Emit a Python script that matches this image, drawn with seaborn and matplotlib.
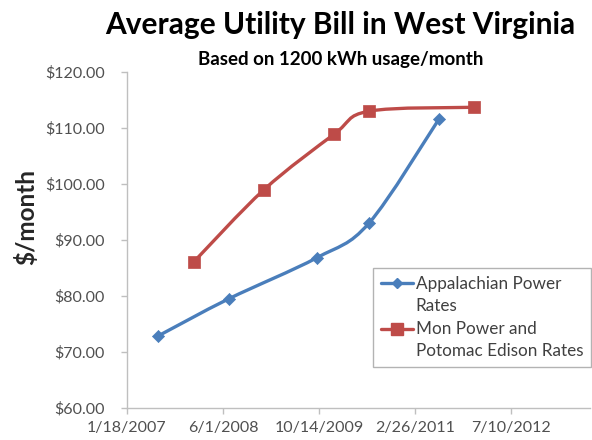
import matplotlib
matplotlib.use("Agg")
import matplotlib.pyplot as plt
import matplotlib.dates as mdates
from matplotlib.path import Path
from matplotlib.patches import PathPatch
from matplotlib.lines import Line2D
from matplotlib.legend_handler import HandlerLine2D
from matplotlib.ticker import FuncFormatter
import numpy as np
import pandas as pd
import seaborn as sns

# data
appalachian_dates = ["2007-07-01", "2008-07-01", "2009-10-01", "2010-07-01", "2011-07-01"]
appalachian_bill = [72.9, 79.5, 86.8, 93.0, 111.6]
mon_power_dates = ["2008-01-01", "2009-01-01", "2010-01-01", "2010-07-01", "2012-01-01"]
mon_power_bill = [86.1, 99.0, 108.9, 113.0, 113.7]
x_tick_dates = ["2007-01-18", "2008-06-01", "2009-10-14", "2011-02-26", "2012-07-10"]
x_tick_labels = ["1/18/2007", "6/1/2008", "10/14/2009", "2/26/2011", "7/10/2012"]
y_ticks = [60, 70, 80, 90, 100, 110, 120]
series_names = ["Appalachian Power\nRates", "Mon Power and\nPotomac Edison Rates"]

BLUE = "#4A7EBB"
RED = "#BE4B48"

sns.set_style("white")
plt.rcParams["font.family"] = ["Lato", "DejaVu Sans"]

df = pd.concat([
    pd.DataFrame({"date": pd.to_datetime(appalachian_dates), "bill": appalachian_bill,
                  "series": series_names[0]}),
    pd.DataFrame({"date": pd.to_datetime(mon_power_dates), "bill": mon_power_bill,
                  "series": series_names[1]}),
])

fig = plt.figure(figsize=(5.92, 4.40), dpi=100)
ax = fig.add_axes([127 / 592, 1 - 408 / 440, (590 - 127) / 592, (408 - 72) / 440])


def smooth_path(xs, ys):
    # Excel-style smoothed line: Catmull-Rom segments as cubic Beziers
    pts = np.column_stack([xs, ys])
    verts = [pts[0]]
    codes = [Path.MOVETO]
    n = len(pts)
    for i in range(n - 1):
        p0 = pts[max(i - 1, 0)]
        p1 = pts[i]
        p2 = pts[i + 1]
        p3 = pts[min(i + 2, n - 1)]
        verts += [p1 + (p2 - p0) / 6.0, p2 - (p3 - p1) / 6.0, p2]
        codes += [Path.CURVE4] * 3
    return Path(verts, codes)


for name, color, marker, size in [(series_names[0], BLUE, "D", 38),
                                   (series_names[1], RED, "s", 80)]:
    sub = df[df["series"] == name]
    xs = mdates.date2num(sub["date"])
    ax.add_patch(PathPatch(smooth_path(xs, sub["bill"].to_numpy()), facecolor="none",
                           edgecolor=color, lw=2.4, zorder=2))
    sns.scatterplot(data=sub, x="date", y="bill", color=color, marker=marker, s=size,
                    edgecolor=color, linewidth=0.5, ax=ax, zorder=3, legend=False)

x0 = mdates.date2num(pd.Timestamp(x_tick_dates[0]))
ax.set_xlim(x0, x0 + (590 - 127) * 500 / 96)
ax.set_ylim(60, 120)
ax.set_xticks(mdates.date2num(pd.to_datetime(x_tick_dates)))
ax.set_xticklabels(x_tick_labels)
ax.set_yticks(y_ticks)
ax.yaxis.set_major_formatter(FuncFormatter(lambda v, p: f"${v:.2f}"))
ax.set_xlabel("")
ax.set_ylabel("$/month", fontsize=17.5, fontweight="bold")
ax.yaxis.set_label_coords((38 - 127) / (590 - 127), (408 - 217) / (408 - 72))

for s in ["top", "right"]:
    ax.spines[s].set_visible(False)
for s in ["left", "bottom"]:
    ax.spines[s].set_color("#BFBFBF")
    ax.spines[s].set_linewidth(1.0)
ax.tick_params(axis="both", which="both", direction="out", length=4, width=1,
               color="#BFBFBF", labelcolor="#505050", labelsize=11.5, left=True, bottom=True)
ax.tick_params(axis="y", pad=12)
ax.tick_params(axis="x", pad=5)

fig.text(0.575, 1 - 25 / 440, "Average Utility Bill in West Virginia", ha="center", va="center",
         fontsize=21.5, fontweight="bold", color="black")
fig.text(0.575, 1 - 60 / 440, "Based on 1200 kWh usage/month", ha="center", va="center",
         fontsize=13.5, fontweight="bold", color="black")


class TopAlignedHandler(HandlerLine2D):
    # put the legend key next to the first line of a two-line label, like Excel
    def create_artists(self, legend, orig_handle, xdescent, ydescent, width, height,
                       fontsize, trans):
        return super().create_artists(legend, orig_handle, xdescent, ydescent - 17,
                                      width, height, fontsize, trans)


handles = [Line2D([], [], color=BLUE, lw=2.4, marker="D", markersize=5),
           Line2D([], [], color=RED, lw=2.4, marker="s", markersize=8)]
leg = ax.legend(handles, series_names,
                loc="upper left", bbox_to_anchor=(373 / 592, 1 - 268 / 440),
                bbox_transform=fig.transFigure, frameon=True, fancybox=False,
                fontsize=12.3, handlelength=1.9, handletextpad=0.15, borderpad=0.45,
                labelspacing=0.45, borderaxespad=0,
                handler_map={Line2D: TopAlignedHandler()})
leg.get_frame().set_edgecolor("#A0A0A0")
leg.get_frame().set_linewidth(1.0)
for t in leg.get_texts():
    t.set_color("#404040")
    t.set_linespacing(1.45)

fig.savefig("out.png", dpi=100)
